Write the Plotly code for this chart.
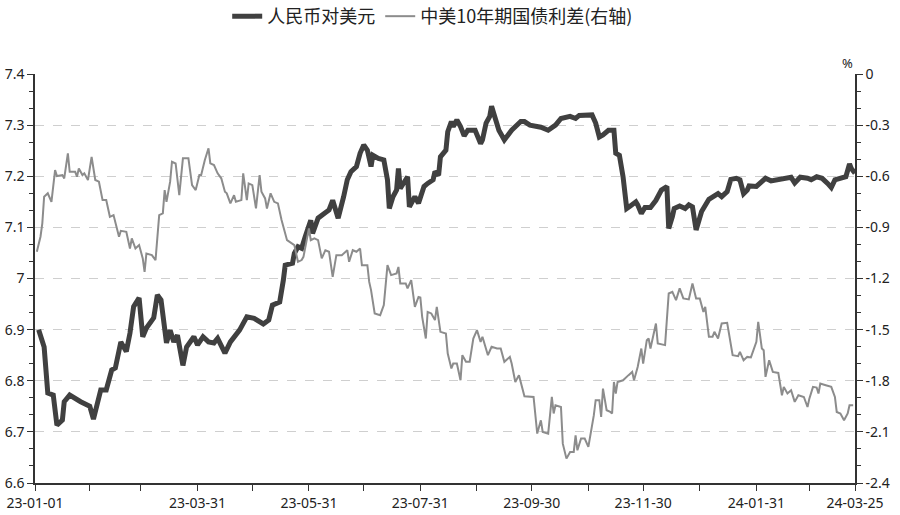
import numpy as np
import plotly.graph_objects as go

# 人民币对美元 (left axis)
cny_dates = [
    "2023-01-03","2023-01-06","2023-01-08","2023-01-11","2023-01-13","2023-01-16","2023-01-17","2023-01-20",
    "2023-01-26","2023-01-31","2023-02-02","2023-02-06","2023-02-09","2023-02-12","2023-02-14","2023-02-17",
    "2023-02-20","2023-02-22","2023-02-24","2023-02-27","2023-03-01","2023-03-03","2023-03-07","2023-03-09",
    "2023-03-11","2023-03-14","2023-03-16","2023-03-18","2023-03-20","2023-03-23","2023-03-25","2023-03-29",
    "2023-03-31","2023-04-03","2023-04-06","2023-04-09","2023-04-11","2023-04-15","2023-04-18","2023-04-21",
    "2023-04-23","2023-04-27","2023-05-01","2023-05-06","2023-05-09","2023-05-11","2023-05-15","2023-05-17",
    "2023-05-18","2023-05-22","2023-05-23","2023-05-25","2023-05-27","2023-05-29","2023-06-01","2023-06-02",
    "2023-06-05","2023-06-08","2023-06-11","2023-06-13","2023-06-16","2023-06-19","2023-06-21","2023-06-23",
    "2023-06-26","2023-06-28","2023-06-30","2023-07-02","2023-07-04","2023-07-05","2023-07-08","2023-07-11",
    "2023-07-13","2023-07-14","2023-07-16","2023-07-18","2023-07-19","2023-07-20","2023-07-22","2023-07-24",
    "2023-07-25","2023-07-28","2023-07-30","2023-08-02","2023-08-04","2023-08-07","2023-08-08","2023-08-10",
    "2023-08-11","2023-08-14","2023-08-15","2023-08-17","2023-08-18","2023-08-20","2023-08-22","2023-08-24",
    "2023-08-26","2023-08-30","2023-09-02","2023-09-03","2023-09-05","2023-09-07","2023-09-08","2023-09-10",
    "2023-09-12","2023-09-15","2023-09-19","2023-09-24","2023-09-26","2023-09-29","2023-10-05","2023-10-09",
    "2023-10-13","2023-10-16","2023-10-21","2023-10-24","2023-10-26","2023-11-02","2023-11-04","2023-11-06",
    "2023-11-08","2023-11-11","2023-11-14","2023-11-15","2023-11-17","2023-11-19","2023-11-21","2023-11-23",
    "2023-11-26","2023-11-27","2023-11-29","2023-12-01","2023-12-04","2023-12-07","2023-12-08","2023-12-10",
    "2023-12-13","2023-12-14","2023-12-16","2023-12-17","2023-12-20","2023-12-23","2023-12-25","2023-12-27",
    "2023-12-29","2024-01-01","2024-01-05","2024-01-08","2024-01-10","2024-01-12","2024-01-15","2024-01-17",
    "2024-01-20","2024-01-22","2024-01-24","2024-01-26","2024-01-27","2024-01-31","2024-02-02","2024-02-05",
    "2024-02-08","2024-02-14","2024-02-19","2024-02-21","2024-02-24","2024-02-28","2024-03-01","2024-03-04",
    "2024-03-07","2024-03-10","2024-03-12","2024-03-14","2024-03-17","2024-03-20","2024-03-22","2024-03-23",
    "2024-03-25",
]
cny_values = [
    6.900,6.866,6.776,6.772,6.713,6.723,6.759,6.772,
    6.759,6.750,6.725,6.782,6.782,6.821,6.825,6.876,
    6.857,6.893,6.945,6.962,6.886,6.903,6.923,6.968,
    6.958,6.874,6.899,6.876,6.889,6.830,6.866,6.886,
    6.870,6.886,6.876,6.874,6.883,6.854,6.876,6.889,
    6.899,6.925,6.922,6.911,6.919,6.948,6.954,6.997,
    7.026,7.030,7.049,7.062,7.059,7.082,7.114,7.088,
    7.118,7.126,7.134,7.153,7.118,7.160,7.193,7.209,
    7.219,7.245,7.261,7.251,7.219,7.241,7.235,7.232,
    7.193,7.137,7.160,7.173,7.215,7.176,7.186,7.199,
    7.140,7.160,7.147,7.180,7.186,7.193,7.209,7.202,
    7.238,7.251,7.287,7.307,7.297,7.310,7.297,7.279,
    7.290,7.290,7.264,7.271,7.304,7.317,7.337,7.317,
    7.290,7.271,7.290,7.307,7.307,7.300,7.296,7.290,
    7.300,7.313,7.317,7.313,7.319,7.320,7.304,7.277,
    7.281,7.290,7.290,7.245,7.241,7.199,7.137,7.142,
    7.150,7.144,7.127,7.139,7.139,7.153,7.160,7.173,
    7.180,7.098,7.121,7.137,7.142,7.137,7.144,7.140,
    7.095,7.131,7.155,7.160,7.166,7.160,7.170,7.194,
    7.196,7.193,7.166,7.173,7.181,7.180,7.186,7.196,
    7.191,7.194,7.198,7.187,7.198,7.196,7.193,7.199,
    7.196,7.186,7.178,7.193,7.196,7.199,7.224,7.215,
    7.206,
]

# 中美10年期国债利差 (right axis, %)
spread_dates = [
    "2023-01-02","2023-01-04","2023-01-05","2023-01-06","2023-01-08","2023-01-10","2023-01-12","2023-01-13",
    "2023-01-16","2023-01-17","2023-01-19","2023-01-20","2023-01-23","2023-01-24","2023-01-25","2023-01-27",
    "2023-01-28","2023-01-30","2023-02-01","2023-02-03","2023-02-05","2023-02-07","2023-02-09","2023-02-11",
    "2023-02-13","2023-02-16","2023-02-17","2023-02-20","2023-02-22","2023-02-23","2023-02-25","2023-02-27",
    "2023-03-01","2023-03-02","2023-03-03","2023-03-06","2023-03-08","2023-03-10","2023-03-12","2023-03-13",
    "2023-03-14","2023-03-16","2023-03-17","2023-03-19","2023-03-21","2023-03-23","2023-03-26","2023-03-28",
    "2023-03-30","2023-04-01","2023-04-02","2023-04-04","2023-04-06","2023-04-07","2023-04-09","2023-04-11",
    "2023-04-13","2023-04-15","2023-04-16","2023-04-18","2023-04-20","2023-04-21","2023-04-24","2023-04-25",
    "2023-04-27","2023-04-28","2023-04-30","2023-05-02","2023-05-04","2023-05-05","2023-05-07","2023-05-08",
    "2023-05-10","2023-05-12","2023-05-14","2023-05-16","2023-05-19","2023-05-22","2023-05-23","2023-05-25",
    "2023-05-27","2023-05-28","2023-05-31","2023-06-01","2023-06-03","2023-06-05","2023-06-07","2023-06-09",
    "2023-06-11","2023-06-13","2023-06-15","2023-06-18","2023-06-21","2023-06-22","2023-06-24","2023-06-26",
    "2023-06-28","2023-06-29","2023-07-02","2023-07-03","2023-07-04","2023-07-06","2023-07-09","2023-07-11",
    "2023-07-13","2023-07-15","2023-07-18","2023-07-19","2023-07-20","2023-07-23","2023-07-24","2023-07-26",
    "2023-07-28","2023-07-30","2023-07-31","2023-08-01","2023-08-03","2023-08-04","2023-08-06","2023-08-08",
    "2023-08-09","2023-08-11","2023-08-14","2023-08-15","2023-08-17","2023-08-18","2023-08-20","2023-08-22",
    "2023-08-23","2023-08-25","2023-08-27","2023-08-29","2023-08-31","2023-09-02","2023-09-03","2023-09-06",
    "2023-09-08","2023-09-11","2023-09-13","2023-09-15","2023-09-18","2023-09-19","2023-09-21","2023-09-23",
    "2023-09-24","2023-09-26","2023-10-01","2023-10-03","2023-10-05","2023-10-06","2023-10-09","2023-10-11",
    "2023-10-12","2023-10-13","2023-10-16","2023-10-17","2023-10-19","2023-10-21","2023-10-23","2023-10-24",
    "2023-10-25","2023-10-27","2023-10-29","2023-10-31","2023-11-03","2023-11-04","2023-11-06","2023-11-07",
    "2023-11-08","2023-11-10","2023-11-12","2023-11-13","2023-11-14","2023-11-15","2023-11-16","2023-11-19",
    "2023-11-22","2023-11-24","2023-11-25","2023-11-27","2023-11-29","2023-11-30","2023-12-02","2023-12-03",
    "2023-12-04","2023-12-07","2023-12-08","2023-12-11","2023-12-12","2023-12-14","2023-12-16","2023-12-18",
    "2023-12-20","2023-12-22","2023-12-25","2023-12-27","2023-12-29","2023-12-31","2024-01-02","2024-01-03",
    "2024-01-05","2024-01-07","2024-01-08","2024-01-10","2024-01-12","2024-01-15","2024-01-18","2024-01-21",
    "2024-01-22","2024-01-24","2024-01-26","2024-01-28","2024-01-30","2024-01-31","2024-02-01","2024-02-03",
    "2024-02-04","2024-02-05","2024-02-07","2024-02-09","2024-02-12","2024-02-14","2024-02-15","2024-02-17",
    "2024-02-19","2024-02-21","2024-02-23","2024-02-26","2024-02-28","2024-02-29","2024-03-02","2024-03-04",
    "2024-03-05","2024-03-06","2024-03-09","2024-03-12","2024-03-14","2024-03-15","2024-03-17","2024-03-19",
    "2024-03-21","2024-03-22","2024-03-24",
]
spread_values = [
    -1.043,-0.955,-0.877,-0.720,-0.700,-0.750,-0.564,-0.599,
    -0.593,-0.613,-0.466,-0.574,-0.574,-0.603,-0.554,-0.593,
    -0.583,-0.622,-0.486,-0.622,-0.632,-0.740,-0.740,-0.838,
    -0.828,-0.955,-0.920,-0.926,-1.024,-0.965,-1.024,-1.004,
    -1.082,-1.161,-1.053,-1.063,-1.092,-0.828,-0.818,-0.681,
    -0.750,-0.632,-0.515,-0.525,-0.711,-0.495,-0.495,-0.652,
    -0.681,-0.593,-0.593,-0.505,-0.436,-0.524,-0.534,-0.583,
    -0.612,-0.691,-0.700,-0.759,-0.711,-0.750,-0.740,-0.583,
    -0.740,-0.642,-0.652,-0.789,-0.593,-0.691,-0.730,-0.789,
    -0.700,-0.750,-0.759,-0.857,-0.975,-0.994,-1.004,-1.102,
    -1.092,-1.073,-0.906,-0.975,-0.965,-0.975,-1.082,-1.034,
    -1.043,-1.190,-1.063,-1.063,-1.034,-1.102,-1.034,-1.043,
    -1.024,-1.122,-1.122,-1.220,-1.268,-1.405,-1.415,-1.356,
    -1.122,-1.180,-1.170,-1.132,-1.229,-1.229,-1.258,-1.210,
    -1.366,-1.308,-1.311,-1.425,-1.552,-1.396,-1.405,-1.444,
    -1.366,-1.513,-1.523,-1.640,-1.728,-1.699,-1.699,-1.797,
    -1.650,-1.689,-1.689,-1.552,-1.503,-1.572,-1.542,-1.650,
    -1.601,-1.611,-1.611,-1.689,-1.660,-1.699,-1.807,-1.767,
    -1.807,-1.891,-1.895,-2.110,-2.032,-2.100,-2.110,-1.895,
    -1.992,-1.944,-1.954,-2.169,-2.257,-2.218,-2.218,-2.120,
    -2.208,-2.139,-2.139,-2.188,-2.002,-1.914,-1.914,-2.012,
    -1.846,-1.973,-1.983,-1.992,-1.807,-1.875,-1.807,-1.797,
    -1.767,-1.748,-1.797,-1.719,-1.611,-1.699,-1.562,-1.552,
    -1.611,-1.464,-1.581,-1.591,-1.591,-1.288,-1.278,-1.327,
    -1.258,-1.317,-1.323,-1.229,-1.317,-1.317,-1.396,-1.366,
    -1.542,-1.542,-1.513,-1.552,-1.464,-1.460,-1.650,-1.656,
    -1.631,-1.680,-1.660,-1.663,-1.601,-1.572,-1.454,-1.611,
    -1.621,-1.777,-1.680,-1.748,-1.754,-1.885,-1.836,-1.875,
    -1.856,-1.924,-1.885,-1.895,-1.954,-1.905,-1.836,-1.840,
    -1.875,-1.816,-1.826,-1.836,-1.895,-1.983,-1.992,-2.032,
    -1.992,-1.944,-1.944,
]

# axis ticks
x_tick_dates = ["2023-01-01","2023-01-31","2023-02-28","2023-03-31","2023-04-30","2023-05-31",
                "2023-06-30","2023-07-31","2023-08-31","2023-09-30","2023-10-31","2023-11-30",
                "2023-12-31","2024-01-31","2024-02-29","2024-03-25"]
x_tick_labels = ["23-01-01","","","23-03-31","","23-05-31","","23-07-31","","23-09-30","",
                 "23-11-30","","24-01-31","","24-03-25"]
left_tick_vals = [6.6,6.7,6.8,6.9,7.0,7.1,7.2,7.3,7.4]
left_tick_labels = ["6.6","6.7","6.8","6.9","7","7.1","7.2","7.3","7.4"]
right_tick_vals = [-2.4,-2.1,-1.8,-1.5,-1.2,-0.9,-0.6,-0.3,0.0]
right_tick_labels = ["-2.4","-2.1","-1.8","-1.5","-1.2","-0.9","-0.6","-0.3","0"]

series_names = ["人民币对美元", "中美10年期国债利差(右轴)"]

TICKFONT = dict(family="Noto Sans, DejaVu Sans, sans-serif", size=14, color="#222222")

fig = go.Figure()
fig.add_trace(go.Scatter(
    x=cny_dates, y=cny_values, name=series_names[0], mode="lines",
    line=dict(color="#404040", width=5), yaxis="y"))
fig.add_trace(go.Scatter(
    x=spread_dates, y=spread_values, name=series_names[1], mode="lines",
    line=dict(color="#8c8c8c", width=2), yaxis="y2"))

fig.update_layout(
    width=900, height=515,
    paper_bgcolor="white", plot_bgcolor="white",
    margin=dict(l=35, r=45, t=74, b=32, autoexpand=False),
    font=dict(family="Noto Sans CJK SC, Noto Sans, sans-serif", color="#222222"),
    showlegend=True,
    legend=dict(orientation="h", x=0.485, xanchor="center", yref="container", y=0.968,
                yanchor="middle", font=dict(size=18, family="Noto Sans CJK SC", color="#222222"),
                itemwidth=30, bgcolor="rgba(0,0,0,0)"),
    xaxis=dict(
        type="date", range=["2023-01-01", "2024-03-25"], automargin=False,
        tickmode="array", tickvals=x_tick_dates, ticktext=x_tick_labels,
        ticks="outside", ticklen=6, tickcolor="#333333", tickwidth=1,
        showline=True, linecolor="#333333", linewidth=1.5,
        showgrid=False, zeroline=False, tickfont=TICKFONT, tickangle=0,
    ),
    yaxis=dict(
        range=[6.6, 7.4], tickmode="array", tickvals=left_tick_vals, ticktext=left_tick_labels,
        automargin=False,
        ticks="outside", ticklen=6, tickcolor="#333333",
        showline=True, linecolor="#333333", linewidth=1.5,
        showgrid=True, gridcolor="#cfcfcf", griddash="dash", gridwidth=1,
        zeroline=False, tickfont=TICKFONT,
        minor=dict(tickvals=list(np.linspace(6.6, 7.4, 25)), ticks="outside", ticklen=4,
                   tickcolor="#333333", showgrid=False),
    ),
    yaxis2=dict(
        overlaying="y", side="right", range=[-2.4, 0], automargin=False,
        tickmode="array", tickvals=right_tick_vals, ticktext=right_tick_labels,
        ticks="outside", ticklen=6, tickcolor="#333333",
        showline=True, linecolor="#333333", linewidth=1.5,
        showgrid=False, zeroline=False, tickfont=TICKFONT,
        minor=dict(tickvals=list(np.linspace(-2.4, 0, 25)), ticks="outside", ticklen=4,
                   tickcolor="#333333", showgrid=False),
    ),
    annotations=[dict(text="%", xref="paper", yref="paper", x=1.0, y=1.0, yshift=22,
                      showarrow=False, font=dict(size=13, color="#222222",
                                                 family="Noto Sans, sans-serif"))],
)

fig.write_html("out.html", config={"displayModeBar": False},
               post_script="document.body.style.margin='0';document.body.style.overflow='hidden';")
